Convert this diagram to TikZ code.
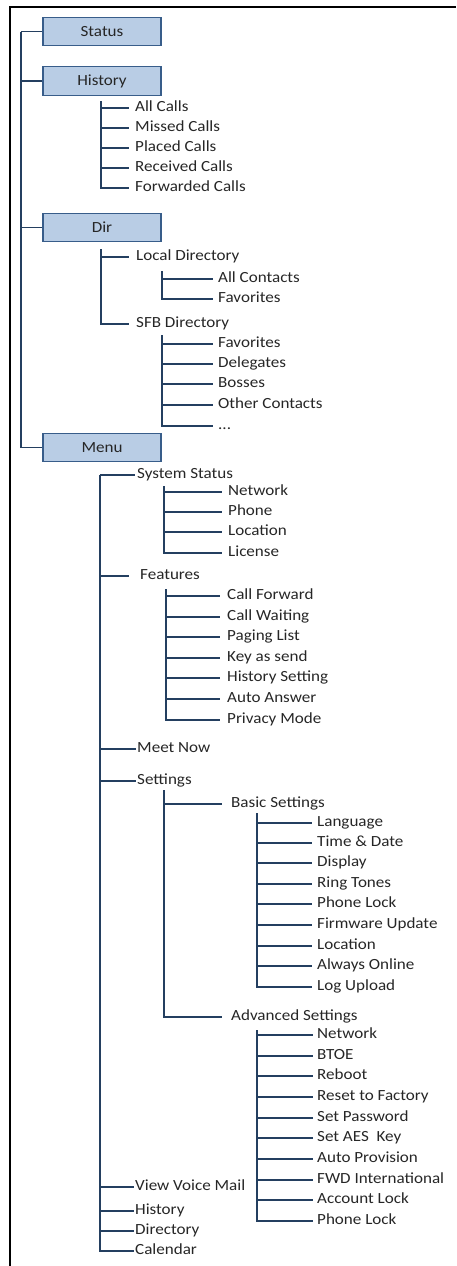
\documentclass[tikz,border=0pt]{standalone}
\usepackage{fontspec}
\setmainfont{Carlito}[FakeStretch=1.1]
\definecolor{boxfill}{HTML}{B9CDE5}
\definecolor{boxline}{HTML}{385D8A}
\definecolor{lnc}{HTML}{243F60}
\definecolor{txt}{HTML}{262626}
\begin{document}
\begin{tikzpicture}[x=1pt,y=-1pt,
  box/.style={draw=boxline, fill=boxfill, line width=1.3pt, minimum width=118pt, minimum height=28.5pt, inner sep=0pt, text=txt, font=\fontsize{15.5}{18}\selectfont},
  item/.style={anchor=west, inner sep=0pt, text height=11pt, text depth=3.5pt, text=txt, font=\fontsize{15.5}{18}\selectfont},
  conn/.style={draw=lnc, line width=1.6pt},
  gp/.style={shorten >=#1pt}]
\useasboundingbox (0,0) rectangle (456,1266);
\draw[black, line width=2pt] (10,1266) -- (10,7) -- (456,7);

% top-level boxes
\node[box] (status)  at (102,31.5)  {Status};
\node[box] (history) at (102,81)    {History};
\node[box] (dir)     at (102,227.5) {Dir};
\node[box] (menu)    at (102,447.5) {Menu};
\coordinate (trunk) at (21,31.5);
\draw[conn] (trunk) -- (status.west);
\draw[conn] (trunk |- history.west) -- (history.west);
\draw[conn] (trunk |- dir.west) -- (dir.west);
\draw[conn] (trunk) |- (menu.west);

% History
\node[item] (hA) at (135,108) {All Calls};
\node[item] (hB) at (135,128) {Missed Calls};
\node[item] (hC) at (135,148) {Placed Calls};
\node[item] (hD) at (135,168) {Received Calls};
\node[item] (hE) at (135,188) {Forwarded Calls};
\coordinate (hv) at (101,101);
\foreach \n in {hA,hB,hC,hD} \draw[conn,gp=6] (hv |- \n.west) -- (\n.west);
\draw[conn,gp=6] (hv) |- (hE.west);

% Dir
\node[item] (dL) at (136,257) {Local Directory};
\node[item] (dS) at (136,324) {SFB Directory};
\coordinate (dv) at (101,249);
\draw[conn,gp=7] (dv |- dL.west) -- (dL.west);
\draw[conn,gp=7] (dv) |- (dS.west);

\node[item] (lA) at (218,279) {All Contacts};
\node[item] (lB) at (218,299) {Favorites};
\coordinate (lv) at (162,271);
\draw[conn,gp=5] (lv |- lA.west) -- (lA.west);
\draw[conn,gp=5] (lv) |- (lB.west);

\node[item] (sA) at (218,344) {Favorites};
\node[item] (sB) at (218,364) {Delegates};
\node[item] (sC) at (218,384) {Bosses};
\node[item] (sD) at (218,405) {Other Contacts};
\node[item] (sE) at (218,426) {...};
\coordinate (sv) at (162,335);
\foreach \n in {sA,sB,sC,sD} \draw[conn,gp=5] (sv |- \n.west) -- (\n.west);
\draw[conn,gp=5] (sv) |- (sE.west);

% Menu
\node[item] (mA) at (137,475)  {System Status};
\node[item] (mB) at (140,576)  {Features};
\node[item] (mC) at (137,749)  {Meet Now};
\node[item] (mD) at (137,781)  {Settings};
\node[item] (mE) at (135,1187) {View Voice Mail};
\node[item] (mF) at (135,1211) {History};
\node[item] (mG) at (135,1231) {Directory};
\node[item] (mH) at (135,1251) {Calendar};
\coordinate (mv) at (100,475);
\draw[conn,gp=2] (mv) -- (mA.west);
\draw[conn,gp=11] (mv |- mB.west) -- (mB.west);
\foreach \n in {mC,mD,mE,mF,mG} \draw[conn,gp=1.5] (mv |- \n.west) -- (\n.west);
\draw[conn,gp=1.5] (mv) |- (mH.west);

% System Status
\node[item] (yA) at (228,492) {Network};
\node[item] (yB) at (228,512) {Phone};
\node[item] (yC) at (228,532) {Location};
\node[item] (yD) at (228,553) {License};
\coordinate (yv) at (164,486);
\foreach \n in {yA,yB,yC} \draw[conn,gp=6] (yv |- \n.west) -- (\n.west);
\draw[conn,gp=6] (yv) |- (yD.west);

% Features
\node[item] (fA) at (227,596) {Call Forward};
\node[item] (fB) at (227,617) {Call Waiting};
\node[item] (fC) at (227,637) {Paging List};
\node[item] (fD) at (227,658) {Key as send};
\node[item] (fE) at (227,678) {History Setting};
\node[item] (fF) at (227,699) {Auto Answer};
\node[item] (fG) at (227,720) {Privacy Mode};
\coordinate (fv) at (166,589);
\foreach \n in {fA,fB,fC,fD,fE,fF} \draw[conn,gp=7] (fv |- \n.west) -- (\n.west);
\draw[conn,gp=7] (fv) |- (fG.west);

% Settings
\node[item] (tA) at (231,804)  {Basic Settings};
\node[item] (tB) at (231,1017) {Advanced Settings};
\coordinate (tv) at (164,790);
\draw[conn,gp=9] (tv |- tA.west) -- (tA.west);
\draw[conn,gp=9] (tv) |- (tB.west);

% Basic Settings
\node[item] (bA) at (317,823) {Language};
\node[item] (bB) at (317,843) {Time \& Date};
\node[item] (bC) at (317,863) {Display};
\node[item] (bD) at (317,884) {Ring Tones};
\node[item] (bE) at (317,904) {Phone Lock};
\node[item] (bF) at (317,925) {Firmware Update};
\node[item] (bG) at (317,946) {Location};
\node[item] (bH) at (317,966) {Always Online};
\node[item] (bI) at (317,987) {Log Upload};
\coordinate (bv) at (257,813);
\foreach \n in {bA,bB,bC,bD,bE,bF,bG,bH} \draw[conn,gp=5] (bv |- \n.west) -- (\n.west);
\draw[conn,gp=5] (bv) |- (bI.west);

% Advanced Settings
\node[item] (aA) at (317,1035) {Network};
\node[item] (aB) at (317,1056) {BTOE};
\node[item] (aC) at (317,1076) {Reboot};
\node[item] (aD) at (317,1097) {Reset to Factory};
\node[item] (aE) at (317,1118) {Set Password};
\node[item] (aF) at (317,1138) {Set AES\ \ Key};
\node[item] (aG) at (317,1159) {Auto Provision};
\node[item] (aH) at (317,1180) {FWD International};
\node[item] (aI) at (317,1200) {Account Lock};
\node[item] (aJ) at (317,1221) {Phone Lock};
\coordinate (av) at (257,1030);
\foreach \n in {aA,aB,aC,aD,aE,aF,aG,aH,aI} \draw[conn,gp=4] (av |- \n.west) -- (\n.west);
\draw[conn,gp=4] (av) |- (aJ.west);
\end{tikzpicture}
\end{document}
